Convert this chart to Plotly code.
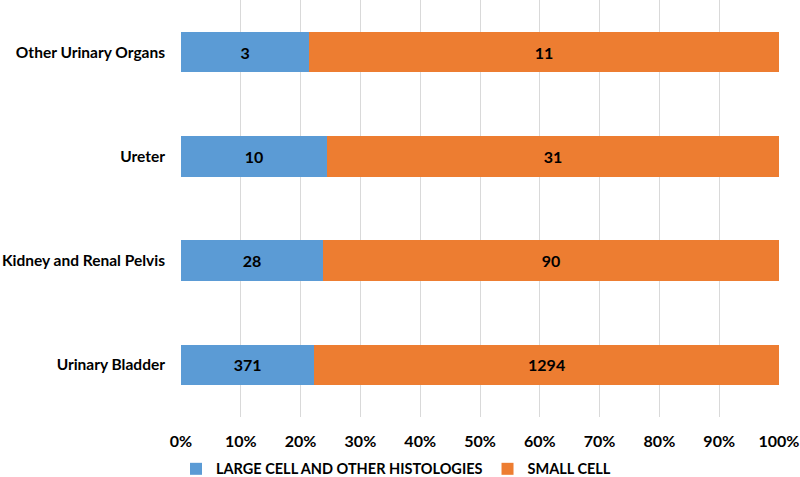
import plotly.graph_objects as go

categories = ["Urinary Bladder", "Kidney and Renal Pelvis", "Ureter", "Other Urinary Organs"]
large_cell = [371, 28, 10, 3]
small_cell = [1294, 90, 31, 11]
series_names = ["LARGE CELL AND OTHER HISTOLOGIES", "SMALL CELL"]
x_ticks = [0, 10, 20, 30, 40, 50, 60, 70, 80, 90, 100]

totals = [a + b for a, b in zip(large_cell, small_cell)]
large_pct = [a / t * 100 for a, t in zip(large_cell, totals)]
small_pct = [b / t * 100 for b, t in zip(small_cell, totals)]

FONT = "Lato"
TF = dict(family=FONT, size=16, color="#000000", weight="bold")
YF = dict(family=FONT, size=15.5, color="#000000", weight="bold")
LF = dict(family=FONT, size=14.5, color="#000000", weight="bold")
fig = go.Figure()
fig.add_trace(go.Bar(
    y=categories, x=large_pct, orientation="h", name=series_names[0],
    marker=dict(color="#5B9BD5", line=dict(width=0)),
    text=[str(v) for v in large_cell], textposition="inside", insidetextanchor="middle",
    textfont=TF, hoverinfo="skip",
))
fig.add_trace(go.Bar(
    y=categories, x=small_pct, orientation="h", name=series_names[1],
    marker=dict(color="#ED7D31", line=dict(width=0)),
    text=[str(v) for v in small_cell], textposition="inside", insidetextanchor="middle",
    textfont=TF, hoverinfo="skip",
))

fig.update_layout(
    barmode="stack", bargap=0.61,
    width=800, height=477,
    margin=dict(l=181, r=21, t=0, b=60),
    paper_bgcolor="white", plot_bgcolor="white",
    font=TF,
    showlegend=True,
    legend=dict(orientation="h", xref="container", yref="container",
                x=0.495, xanchor="center", y=0.017, yanchor="middle",
                font=LF, itemwidth=30, traceorder="normal"),
)
fig.update_xaxes(
    range=[0, 100], tickvals=x_ticks, ticktext=[f"{v}%" for v in x_ticks],
    showgrid=True, gridcolor="#D9D9D9", gridwidth=1, zeroline=False,
    ticks="outside", ticklen=10, tickcolor="rgba(0,0,0,0)",
    tickfont=TF, showline=False, fixedrange=True, automargin=False,
)
fig.update_yaxes(
    categoryorder="array", categoryarray=categories,
    showgrid=False, zeroline=False, showline=False,
    ticks="", ticklabelstandoff=15, tickfont=YF, fixedrange=True, automargin=False,
)
fig.write_html("out.html", config={"displayModeBar": False},
               post_script="document.body.style.margin='0';document.body.style.padding='0';")
